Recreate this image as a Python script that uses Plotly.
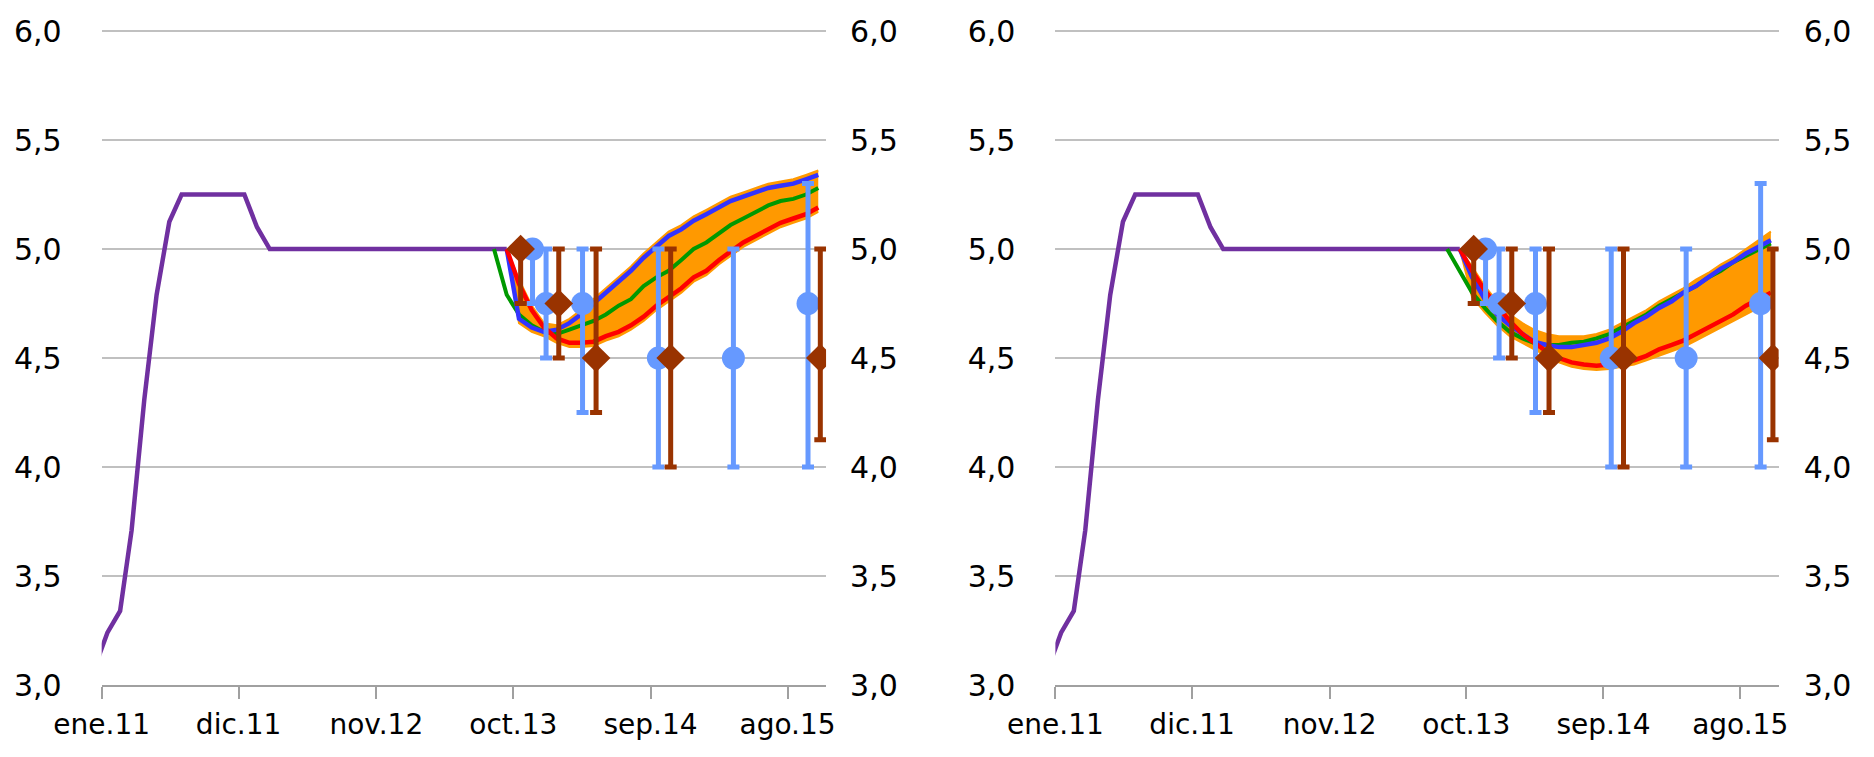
import pandas as pd
import plotly.graph_objects as go

# Ejes
tick_fechas = ["2011-01-01", "2011-12-01", "2012-11-01", "2013-10-01", "2014-09-01", "2015-08-01"]
tick_textos = ["ene.11", "dic.11", "nov.12", "oct.13", "sep.14", "ago.15"]
y_ticks = [3.0, 3.5, 4.0, 4.5, 5.0, 5.5, 6.0]

# TPM efectiva (promedio mensual), dic.10 - sep.13
tpm_fechas = pd.date_range("2010-12-01", "2013-09-01", freq="MS") + pd.Timedelta(days=14)
tpm = [3.08, 3.24, 3.34, 3.71, 4.31, 4.79, 5.125,
       5.25, 5.25, 5.25, 5.25, 5.25, 5.25,
       5.10,
       5.00, 5.00, 5.00, 5.00, 5.00, 5.00, 5.00, 5.00, 5.00, 5.00,
       5.00, 5.00, 5.00, 5.00, 5.00, 5.00, 5.00, 5.00, 5.00, 5.00]

# Curvas forward (mensuales)
fechas_verde = pd.date_range("2013-08-01", "2015-10-01", freq="MS") + pd.Timedelta(days=14)
fechas_curva = pd.date_range("2013-09-01", "2015-10-01", freq="MS") + pd.Timedelta(days=14)

# Panel izquierdo
verde_izq = [5.00, 4.79, 4.70, 4.65, 4.62, 4.61, 4.63, 4.65, 4.67, 4.70, 4.74, 4.77, 4.83, 4.87,
             4.90, 4.95, 5.00, 5.03, 5.07, 5.11, 5.14, 5.17, 5.20, 5.22, 5.23, 5.25, 5.28]
azul_izq = [5.00, 4.68, 4.64, 4.62, 4.63, 4.66, 4.70, 4.75, 4.80, 4.85, 4.90, 4.96, 5.01,
            5.06, 5.09, 5.13, 5.16, 5.19, 5.22, 5.24, 5.26, 5.28, 5.29, 5.30, 5.32, 5.34]
rojo_izq = [5.00, 4.84, 4.72, 4.64, 4.59, 4.57, 4.57, 4.575, 4.60, 4.62, 4.65, 4.69, 4.74,
            4.78, 4.82, 4.87, 4.90, 4.95, 4.99, 5.03, 5.06, 5.09, 5.12, 5.14, 5.16, 5.19]
banda_izq_alta = [5.00, 4.86, 4.74, 4.66, 4.65, 4.68, 4.72, 4.77, 4.82, 4.87, 4.92, 4.98, 5.03,
                  5.08, 5.11, 5.15, 5.18, 5.21, 5.24, 5.26, 5.28, 5.30, 5.31, 5.32, 5.34, 5.36]
banda_izq_baja = [5.00, 4.66, 4.62, 4.60, 4.57, 4.55, 4.55, 4.555, 4.58, 4.60, 4.63, 4.67, 4.72,
                  4.76, 4.80, 4.85, 4.88, 4.93, 4.97, 5.01, 5.04, 5.07, 5.10, 5.12, 5.14, 5.17]

# Panel derecho
verde_der = [5.00, 4.90, 4.80, 4.73, 4.67, 4.62, 4.59, 4.57, 4.56, 4.56, 4.57, 4.575, 4.59, 4.61,
             4.64, 4.67, 4.70, 4.74, 4.77, 4.80, 4.83, 4.87, 4.90, 4.94, 4.97, 5.00, 5.025]
azul_der = [5.00, 4.87, 4.77, 4.70, 4.65, 4.61, 4.575, 4.56, 4.55, 4.55, 4.56, 4.57, 4.59,
            4.62, 4.66, 4.69, 4.73, 4.76, 4.80, 4.83, 4.87, 4.91, 4.94, 4.98, 5.01, 5.04]
rojo_der = [5.00, 4.90, 4.81, 4.74, 4.67, 4.61, 4.57, 4.53, 4.50, 4.48, 4.47, 4.465, 4.47,
            4.48, 4.49, 4.51, 4.54, 4.56, 4.58, 4.61, 4.64, 4.67, 4.70, 4.74, 4.77, 4.80]
banda_der_alta = [5.00, 4.92, 4.83, 4.76, 4.70, 4.66, 4.63, 4.61, 4.60, 4.60, 4.60, 4.61, 4.63,
                  4.66, 4.69, 4.72, 4.76, 4.79, 4.82, 4.86, 4.89, 4.93, 4.96, 5.00, 5.04, 5.08]
banda_der_baja = [5.00, 4.78, 4.71, 4.65, 4.60, 4.57, 4.54, 4.51, 4.48, 4.46, 4.45, 4.445, 4.45,
                  4.46, 4.47, 4.49, 4.51, 4.53, 4.55, 4.58, 4.61, 4.64, 4.67, 4.70, 4.73, 4.76]

# Encuestas (mediana y rango)
eee_fechas = ["2013-11-17", "2013-12-20", "2014-03-19", "2014-09-20", "2015-03-22", "2015-09-20"]
eee_valor = [5.00, 4.75, 4.75, 4.50, 4.50, 4.75]
eee_max = [5.00, 5.00, 5.00, 5.00, 5.00, 5.30]
eee_min = [4.75, 4.50, 4.25, 4.00, 4.00, 4.00]

eof_fechas = ["2013-10-19", "2014-01-20", "2014-04-21", "2014-10-20", "2015-10-20"]
eof_valor = [5.00, 4.75, 4.50, 4.50, 4.50]
eof_max = [5.00, 5.00, 5.00, 5.00, 5.00]
eof_min = [4.75, 4.50, 4.25, 4.00, 4.125]

# Colores
c_tpm = '#7030A0'
c_verde = '#009900'
c_azul = '#3333FF'
c_rojo = '#FF0000'
c_banda = '#FF9900'
c_eee = '#6699FF'
c_eof = '#993300'

fig = go.Figure()


def panel(xa, ya_base, ya_top, verde, azul, rojo, alta, baja):
    # banda
    fig.add_trace(go.Scatter(x=fechas_curva, y=baja, xaxis=xa, yaxis=ya_base, mode='lines',
                             line=dict(color=c_banda, width=2), showlegend=False, hoverinfo='skip'))
    fig.add_trace(go.Scatter(x=fechas_curva, y=alta, xaxis=xa, yaxis=ya_base, mode='lines',
                             line=dict(color=c_banda, width=2), fill='tonexty', fillcolor=c_banda,
                             showlegend=False, hoverinfo='skip'))
    # TPM
    fig.add_trace(go.Scatter(x=tpm_fechas, y=tpm, xaxis=xa, yaxis=ya_base, mode='lines',
                             line=dict(color=c_tpm, width=4.5), showlegend=False))
    # curvas
    fig.add_trace(go.Scatter(x=fechas_verde, y=verde, xaxis=xa, yaxis=ya_top, mode='lines',
                             line=dict(color=c_verde, width=4), showlegend=False))
    fig.add_trace(go.Scatter(x=fechas_curva, y=azul, xaxis=xa, yaxis=ya_top, mode='lines',
                             line=dict(color=c_azul, width=4.5), showlegend=False))
    fig.add_trace(go.Scatter(x=fechas_curva, y=rojo, xaxis=xa, yaxis=ya_top, mode='lines',
                             line=dict(color=c_rojo, width=4.5), showlegend=False))
    # encuestas
    fig.add_trace(go.Scatter(
        x=eee_fechas, y=eee_valor, xaxis=xa, yaxis=ya_top, mode='markers',
        marker=dict(symbol='circle', size=23, color=c_eee),
        error_y=dict(type='data', symmetric=False,
                     array=[a - v for a, v in zip(eee_max, eee_valor)],
                     arrayminus=[v - b for v, b in zip(eee_valor, eee_min)],
                     color=c_eee, thickness=5, width=6),
        showlegend=False))
    fig.add_trace(go.Scatter(
        x=eof_fechas, y=eof_valor, xaxis=xa, yaxis=ya_top, mode='markers',
        marker=dict(symbol='diamond', size=22, color=c_eof),
        error_y=dict(type='data', symmetric=False,
                     array=[a - v for a, v in zip(eof_max, eof_valor)],
                     arrayminus=[v - b for v, b in zip(eof_valor, eof_min)],
                     color=c_eof, thickness=5, width=6),
        showlegend=False))


panel('x', 'y', 'y2', verde_izq, azul_izq, rojo_izq, banda_izq_alta, banda_izq_baja)
panel('x2', 'y3', 'y4', verde_der, azul_der, rojo_der, banda_der_alta, banda_der_baja)

# la página deja 8 px de margen en el body: figura de 1866x749
eje_x = dict(type='date', range=["2011-01-01", "2015-11-03"], tickvals=tick_fechas,
             ticktext=tick_textos, ticks='outside', ticklen=12, tickwidth=2, tickcolor='#A0A0A0',
             showline=True, linecolor='#A0A0A0', linewidth=2, showgrid=False, zeroline=False,
             ticklabelstandoff=1, tickfont=dict(size=28), automargin=False)
eje_y = dict(range=[3, 6.03], tickvals=y_ticks, tickformat='.1f',
             showgrid=True, gridcolor='#C0C0C0', gridwidth=2, zeroline=False, showline=False,
             ticks='', domain=[0.0961, 0.978], automargin=False)
eje_y_der = dict(range=[3, 6.03], tickvals=y_ticks, tickformat='.1f',
                 showgrid=False, zeroline=False, showline=False, ticks='', side='right',
                 automargin=False)

fig.update_layout(
    width=1866, height=749,
    margin=dict(l=0, r=0, t=0, b=0),
    paper_bgcolor='white', plot_bgcolor='white',
    separators=', ',
    font=dict(family='DejaVu Sans', size=30, color='black'),
    xaxis=dict(eje_x, domain=[0.0502, 0.4384], anchor='y'),
    xaxis2=dict(eje_x, domain=[0.5613, 0.9489], anchor='y3'),
    yaxis=dict(eje_y, anchor='x', ticklabelstandoff=39),
    yaxis2=dict(eje_y_der, overlaying='y', anchor='x', ticklabelstandoff=23),
    yaxis3=dict(eje_y, anchor='x2', ticklabelstandoff=39),
    yaxis4=dict(eje_y_der, overlaying='y3', anchor='x2', ticklabelstandoff=24),
)

fig.write_html("out.html")
